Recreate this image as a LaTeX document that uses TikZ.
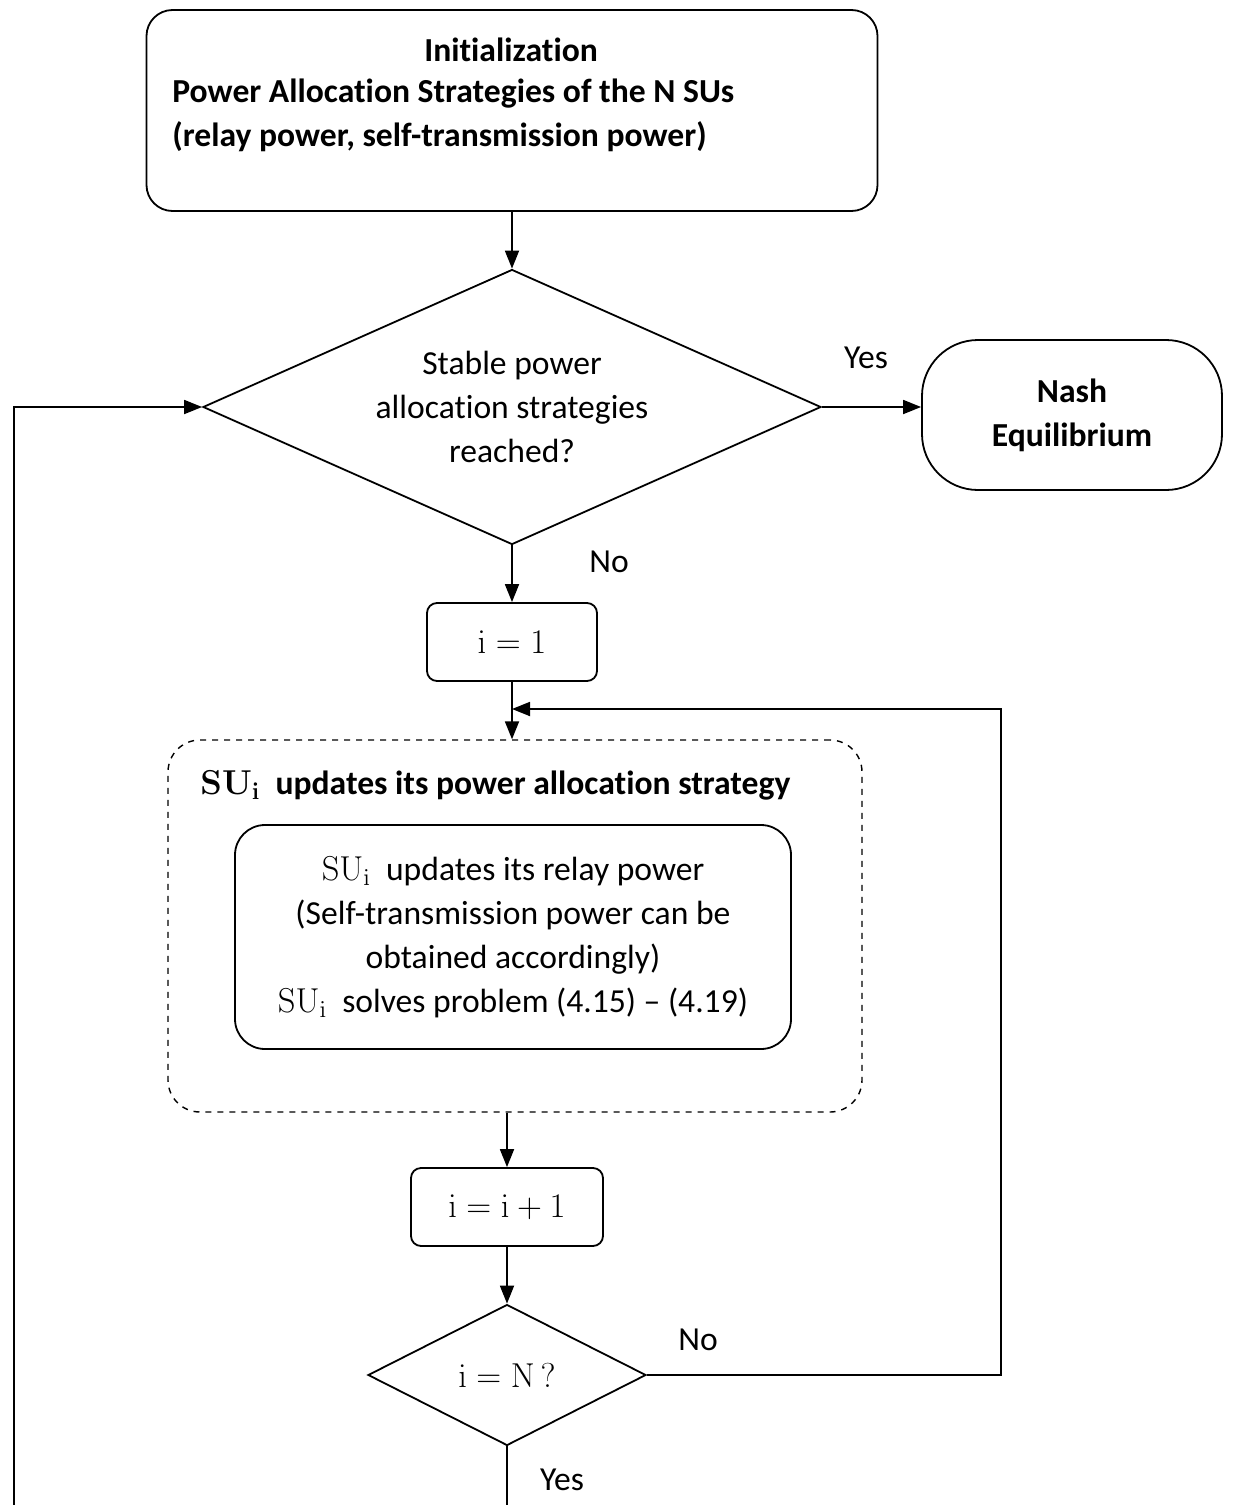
\documentclass[tikz,border=0pt]{standalone}
\usepackage[no-math]{fontspec}
\setmainfont{Carlito}[Ligatures=NoCommon]
\usetikzlibrary{shapes.geometric,arrows.meta}

\tikzset{
  every node/.style={font=\fontsize{16.8pt}{22pt}\selectfont},
  procbox/.style={draw,line width=0.9pt,rounded corners=#1,inner sep=0pt},
  decision/.style={draw,diamond,line width=0.9pt,inner sep=0pt,aspect=2.2,align=center},
  groupbox/.style={draw,dashed,line width=0.7pt,rounded corners=16pt,inner sep=0pt},
  arr/.style={line width=0.9pt,-{Triangle[length=9pt,width=7pt]}},
  line/.style={line width=0.9pt}
}

\begin{document}
\begin{tikzpicture}[x=0.5pt,y=-0.5pt]
  \useasboundingbox (0,0) rectangle (1243,1505);

  % start box
  \node[procbox=13pt,minimum width=365.5pt,minimum height=100.5pt] (init) at (512,110.5) {};
  \node (initT) at (511,50) {\textbf{Initialization}};
  \node[anchor=west,align=left,inner sep=0pt] (initS) at (172,115)
    {\textbf{Power Allocation Strategies of the N SUs}\\\textbf{(relay power, self-transmission power)}};

  % first test
  \node[decision,minimum width=309pt,minimum height=137.5pt] (q1) at (512,407)
    {Stable power\\allocation strategies\\reached?};
  \node[procbox=28pt,minimum width=150pt,minimum height=75pt,align=center] (nash) at (1072,415)
    {\textbf{Nash}\\\textbf{Equilibrium}};

  \node[procbox=5pt,minimum width=85pt,minimum height=39pt] (one) at (512,642) {$\mathrm{i}=1$};

  % update group
  \node[groupbox,minimum width=347pt,minimum height=186pt] (grp) at (515,926) {};
  \node[anchor=west,inner sep=0pt] (grpT) at (200,785)
    {$\mathbf{SU_i}$\ \ \textbf{updates its power allocation strategy}};
  \node[procbox=15pt,minimum width=278pt,minimum height=112pt,align=center] (upd) at (513,937)
    {$\mathrm{SU_i}$\ \ updates its relay power\\(Self-transmission power can be\\obtained accordingly)\\$\mathrm{SU_i}$\ \ solves problem (4.15) -- (4.19)};

  \node[procbox=5pt,minimum width=96pt,minimum height=39pt] (inc) at (507,1207) {$\mathrm{i}=\mathrm{i}+1$};
  \node[decision,minimum width=139pt,minimum height=70.5pt] (q2) at (507,1375) {$\mathrm{i}=\mathrm{N}\,?$};

  % labels
  \node (yes1) at (866,358) {Yes};
  \node (no1) at (609,562) {No};
  \node (no2) at (698,1340) {No};
  \node (yes2) at (562,1480) {Yes};

  % connectors
  \coordinate (join) at (512,709);
  \coordinate (loopR) at (1001,709);
  \coordinate (loopL) at (14,1505);
  \coordinate (endY) at (507,1505);

  \draw[arr] (init.south) -- (q1.north);
  \draw[arr] (q1.east) -- (q1.east -| nash.west);
  \draw[arr] (q1.south) -- (one.north);
  \draw[arr] (one.south) -- (grp.north -| one.south);
  \draw[arr] (grp.south -| inc.north) -- (inc.north);
  \draw[arr] (inc.south) -- (q2.north);
  \draw[arr] (q2.east) -| (loopR) -- (join);
  \draw[line] (q2.south) -- (endY);
  \draw[arr] (loopL) |- (q1.west);
\end{tikzpicture}
\end{document}
